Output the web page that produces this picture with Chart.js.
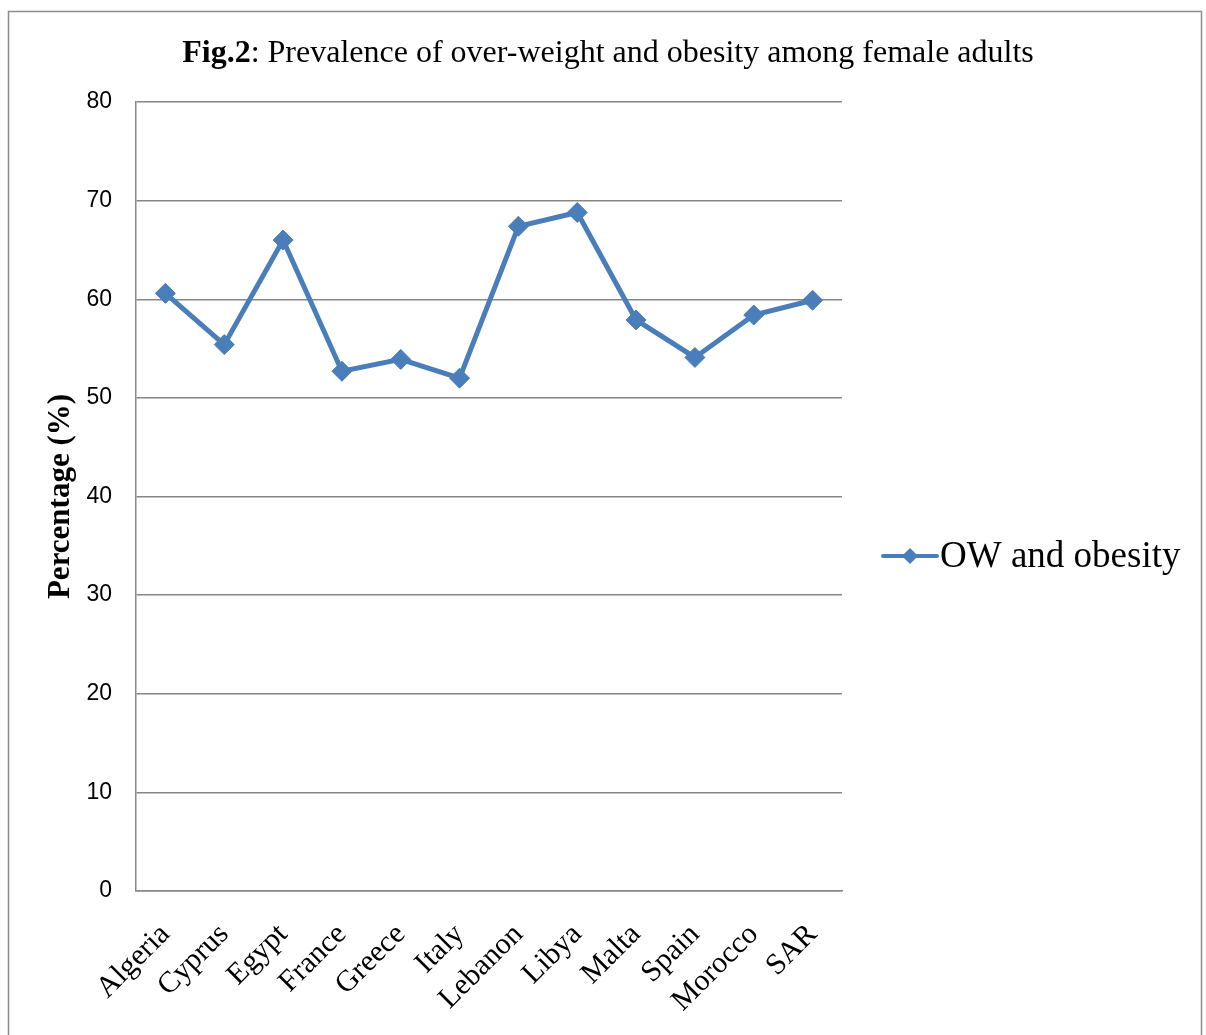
<!DOCTYPE html>
<html>
<head>
<meta charset="utf-8">
<title>Fig.2</title>
<script src="https://cdn.jsdelivr.net/npm/chart.js@4/dist/chart.umd.min.js"></script>
<style>
  body { margin: 0; background: #fff; }
  canvas { display: block; }
</style>
</head>
<body>
<canvas id="obesityChart" width="1206" height="1035"></canvas>
<script>
// Countries and prevalence (%) of over-weight + obesity, female adults
const countries = ["Algeria", "Cyprus", "Egypt", "France", "Greece", "Italy", "Lebanon", "Libya", "Malta", "Spain", "Morocco", "SAR"];
const owObesity = [60.6, 55.4, 66.0, 52.7, 53.9, 52.0, 67.4, 68.8, 57.9, 54.1, 58.4, 59.9];
const seriesName = "OW and obesity";
const yTicks = [0, 10, 20, 30, 40, 50, 60, 70, 80];

const blue = "#4a7ebb";
const gridGrey = "#878787";
const serif = "'Liberation Serif', 'Times New Roman', serif";

// outer frame + title with bold "Fig.2"
const frameAndTitle = {
  id: "frameAndTitle",
  beforeDraw(chart) {
    const ctx = chart.ctx;
    ctx.save();
    ctx.fillStyle = "#fff";
    ctx.fillRect(0, 0, chart.width, chart.height);
    ctx.strokeStyle = "#8c8c8c";
    ctx.lineWidth = 1.5;
    ctx.strokeRect(8.5, 11.5, 1193, 1040);
    ctx.restore();
  },
  afterDraw(chart) {
    const ctx = chart.ctx;
    const bold = "Fig.2";
    const rest = ": Prevalence of over-weight and obesity among female adults";
    ctx.save();
    ctx.fillStyle = "#000";
    ctx.textBaseline = "alphabetic";
    ctx.font = "bold 32px " + serif;
    const wb = ctx.measureText(bold).width;
    ctx.font = "32px " + serif;
    const wr = ctx.measureText(rest).width;
    let x = 608 - (wb + wr) / 2;
    ctx.font = "bold 32px " + serif;
    ctx.fillText(bold, x, 62);
    ctx.font = "32px " + serif;
    ctx.fillText(rest, x + wb, 62);
    ctx.restore();
  }
};

// legend on the right: line with a diamond marker, then the series name
const sideLegend = {
  id: "sideLegend",
  afterDraw(chart) {
    const ds = chart.data.datasets[0];
    const ctx = chart.ctx;
    const x0 = 883, y = 556;
    ctx.save();
    ctx.strokeStyle = ds.borderColor;
    ctx.lineWidth = 4;
    ctx.lineCap = "round";
    ctx.beginPath();
    ctx.moveTo(x0, y);
    ctx.lineTo(x0 + 54, y);
    ctx.stroke();
    ctx.fillStyle = ds.pointBackgroundColor;
    ctx.beginPath();
    ctx.moveTo(x0 + 27, y - 8);
    ctx.lineTo(x0 + 35, y);
    ctx.lineTo(x0 + 27, y + 8);
    ctx.lineTo(x0 + 19, y);
    ctx.closePath();
    ctx.fill();
    ctx.fillStyle = "#000";
    ctx.font = "37px " + serif;
    ctx.textBaseline = "middle";
    ctx.fillText(ds.label, x0 + 57, y + 1);
    ctx.restore();
  }
};

new Chart(document.getElementById("obesityChart"), {
  type: "line",
  data: {
    labels: countries,
    datasets: [{
      label: seriesName,
      data: owObesity,
      borderColor: blue,
      backgroundColor: blue,
      pointBackgroundColor: blue,
      pointBorderColor: blue,
      borderWidth: 5,
      pointStyle: "rectRot",
      pointRadius: 10,
      pointBorderWidth: 1,
      tension: 0
    }]
  },
  options: {
    responsive: false,
    animation: false,
    layout: { padding: { top: 102, right: 364, bottom: 0, left: 0 } },
    plugins: {
      legend: { display: false },
      tooltip: { enabled: false },
      title: { display: false }
    },
    scales: {
      x: {
        offset: true,
        grid: { display: false, drawTicks: false },
        border: { display: true, color: gridGrey, width: 1.5 },
        ticks: {
          color: "#000",
          font: { family: serif, size: 30 },
          maxRotation: 45,
          minRotation: 45,
          padding: 26,
          autoSkip: false
        },
        afterFit(scale) { scale.height = 144; }
      },
      y: {
        min: 0,
        max: 80,
        afterBuildTicks(scale) { scale.ticks = yTicks.map(v => ({ value: v })); },
        grid: { color: gridGrey, lineWidth: 1.5, drawTicks: false },
        border: { display: true, color: gridGrey, width: 1.5 },
        ticks: {
          color: "#000",
          font: { family: "'Liberation Sans', Arial, sans-serif", size: 23 },
          padding: 24
        },
        title: {
          display: true,
          text: "Percentage (%)",
          color: "#000",
          font: { family: serif, size: 31, weight: "bold" },
          padding: { top: 42, bottom: 0 }
        },
        afterFit(scale) { scale.width = 136; }
      }
    }
  },
  plugins: [frameAndTitle, sideLegend]
});
</script>
</body>
</html>
